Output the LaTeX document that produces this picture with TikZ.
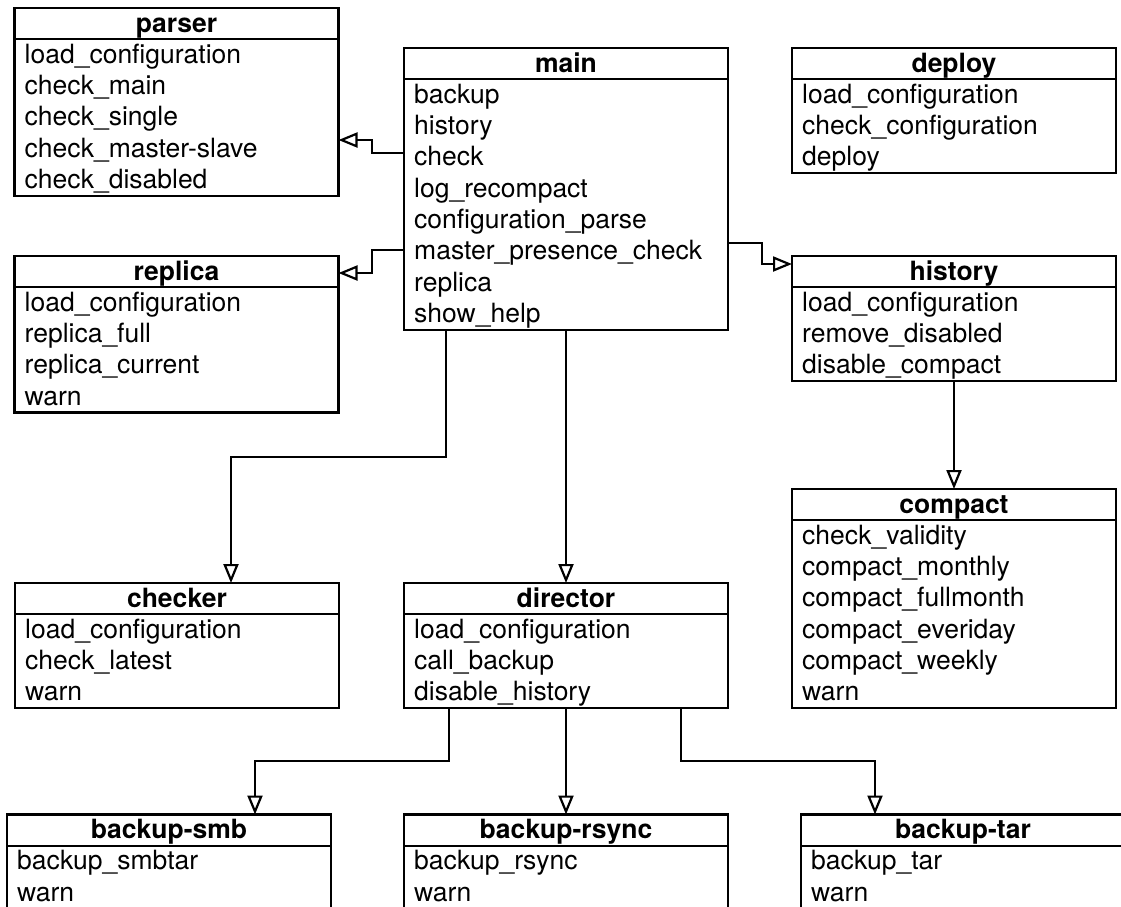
\documentclass[tikz,border=0pt]{standalone}
\usepackage{fontspec}
\setmainfont{TeX Gyre Heros}
\usetikzlibrary{arrows.meta,calc}

\tikzset{
  classbox/.style={draw, line width=2.2pt, minimum width=324pt, inner sep=0pt,
    outer sep=0pt, anchor=north west},
  classrule/.style={line width=2.2pt},
  classtitle/.style={anchor=base, inner sep=0pt,
    font=\fontsize{26.5}{30}\selectfont\bfseries},
  classitem/.style={anchor=base west, inner sep=0pt,
    font=\fontsize{26.5}{30}\selectfont},
  inherit/.style={line width=2.2pt,
    -{Triangle[open, length=19pt, width=15pt]}},
}

% \umlclass{name}{top-left x,y}{number of rows}{title}{rows}
\newcommand\umlclass[5]{%
  \pgfmathsetmacro\umlh{31.3*(#3+1)}%
  \node[classbox, minimum height=\umlh pt] (#1) at (#2) {};
  \draw[classrule] ([yshift=-31.3pt]#1.north west) -- ([yshift=-31.3pt]#1.north east);
  \node[classtitle] (#1-title) at ([yshift=-24pt]#1.north) {#4};
  \foreach \t [count=\i] in {#5} {
    \pgfmathsetmacro\umly{-24-31.3*\i}
    \node[classitem] (#1-\i) at ([xshift=10pt, yshift=\umly pt]#1.north west) {\t};
  }%
}

\begin{document}
\begin{tikzpicture}[x=1pt, y=-1pt]
  \useasboundingbox (0,0) rectangle (1121,906);
  \clip (0,0) rectangle (1121,906);
  \fill[white] (0,0) rectangle (1121,906);

  \umlclass{parser}{14.5,8}{5}{parser}{load\_configuration, check\_main,
    check\_single, check\_master-slave, check\_disabled}
  \umlclass{main}{404,48}{8}{main}{backup, history, check, log\_recompact,
    configuration\_parse, master\_presence\_check, replica, show\_help}
  \umlclass{deploy}{792,48}{3}{deploy}{load\_configuration,
    check\_configuration, deploy}
  \umlclass{replica}{14.5,256}{4}{replica}{load\_configuration, replica\_full,
    replica\_current, warn}
  \umlclass{history}{792,256}{3}{history}{load\_configuration,
    remove\_disabled, disable\_compact}
  \umlclass{compact}{792,489}{6}{compact}{check\_validity, compact\_monthly,
    compact\_fullmonth, compact\_everiday, compact\_weekly, warn}
  \umlclass{checker}{15,583}{3}{checker}{load\_configuration, check\_latest, warn}
  \umlclass{director}{404,583}{3}{director}{load\_configuration, call\_backup,
    disable\_history}
  \umlclass{smb}{7,814.5}{2}{backup-smb}{backup\_smbtar, warn}
  \umlclass{rsync}{404,814.5}{2}{backup-rsync}{backup\_rsync, warn}
  \umlclass{tar}{801,814.5}{2}{backup-tar}{backup\_tar, warn}

  % inheritance connectors
  \draw[inherit] ([yshift=-105pt]main.north west) -- ++(-32,0)
    |- ([yshift=-132pt]parser.north east);
  \draw[inherit] ([yshift=-202pt]main.north west) -- ++(-32,0)
    |- ([yshift=-17pt]replica.north east);
  \draw[inherit] ([yshift=-195pt]main.north east) -- ++(34,0)
    |- ([yshift=-8pt]history.north west);
  \draw[inherit] ([xshift=42pt]main.south west) -- ++(0,127.5)
    -| ([xshift=216pt]checker.north west);
  \draw[inherit] (main.south) -- (director.north);
  \draw[inherit] (history.south) -- (compact.north);
  \draw[inherit] ([xshift=45pt]director.south west) -- ++(0,53)
    -| ([xshift=248pt]smb.north west);
  \draw[inherit] (director.south) -- (rsync.north);
  \draw[inherit] ([xshift=277pt]director.south west) -- ++(0,53)
    -| ([xshift=74pt]tar.north west);
\end{tikzpicture}
\end{document}
